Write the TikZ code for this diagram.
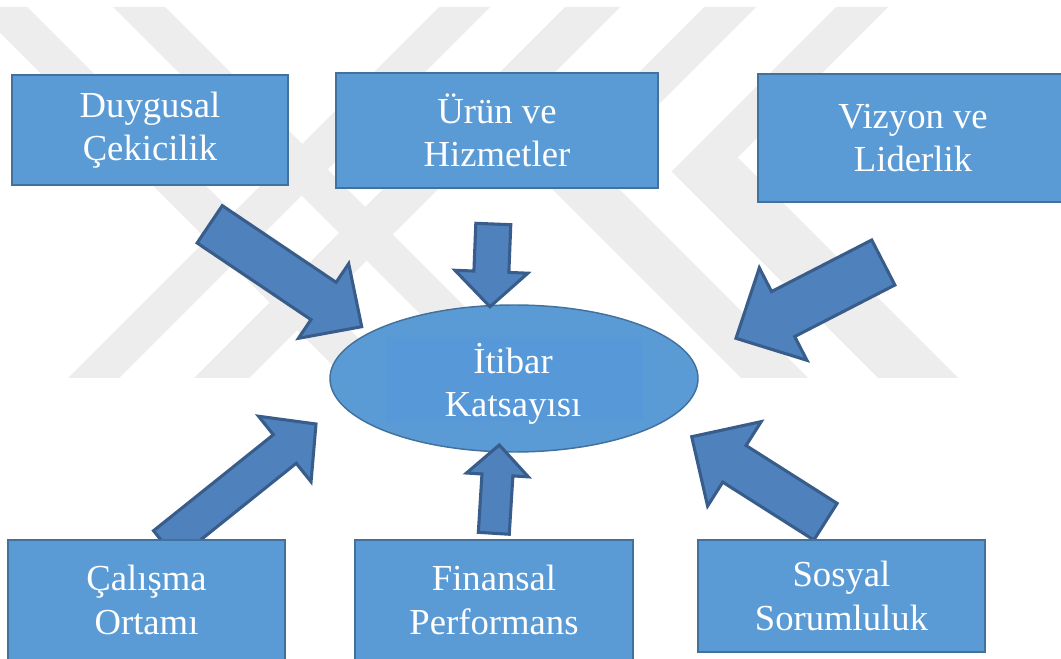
\documentclass[tikz,border=0pt]{standalone}
\usepackage{fontspec}
\setmainfont{Liberation Serif}
\usetikzlibrary{calc,shapes.geometric}

\newcommand\pxu{0.75pt}
\definecolor{boxfill}{RGB}{91,155,213}
\definecolor{boxline}{RGB}{65,113,156}
\definecolor{arrfill}{RGB}{79,129,189}
\definecolor{arrline}{RGB}{56,93,138}
\definecolor{textpanel}{RGB}{85,150,220}
\definecolor{emblemgray}{RGB}{237,237,237}

% block arrow: tail, tip, half shaft width, half head width, head length (px)
\newcommand{\blockarrow}[5]{%
  \coordinate (ba-n) at ($(#2)!#5*\pxu!(#1)$);
  \draw[arrowbody]
    ($(#1)!#3*\pxu!90:(#2)$) -- ($(ba-n)!#3*\pxu!90:(#2)$) --
    ($(ba-n)!#4*\pxu!90:(#2)$) -- (#2) --
    ($(ba-n)!#4*\pxu!-90:(#2)$) -- ($(ba-n)!#3*\pxu!-90:(#2)$) --
    ($(#1)!#3*\pxu!-90:(#2)$) -- cycle;
}

\tikzset{
  factor/.style={draw=boxline, line width=1.5pt, fill=boxfill, text=white,
    align=center, inner sep=0pt, font=\fontsize{27.5}{32.5}\selectfont},
  arrowbody/.style={draw=arrline, fill=arrfill, line width=2.3pt, line join=miter},
  core/.style={ellipse, draw=boxline, line width=1.1pt, fill=boxfill, inner sep=0pt},
  emblem/.style={fill=emblemgray},
}

\begin{document}
\begin{tikzpicture}[x=\pxu, y=-\pxu]
\useasboundingbox (0,0) rectangle (1061,659);
\fill[white] (0,0) rectangle (1061,659);

% faint background emblem
\begin{scope}
  \clip (0,7) rectangle (1061,378);
  \fill[emblem] (-26,7) -- (27,7) -- (398,378) -- (345,378) -- cycle;
  \fill[emblem] (113,7) -- (165,7) -- (536,378) -- (484,378) -- cycle;
  \fill[emblem] (439,7) -- (490,7) -- (119,378) -- (68,378) -- cycle;
  \fill[emblem] (565,7) -- (620,7) -- (249,378) -- (194,378) -- cycle;
  \fill[emblem] (537,174) -- (704,7) -- (756,7) -- (596.5,166.5) -- (808,378) -- (741,378) -- cycle;
  \fill[emblem] (671.5,171.5) -- (836,7) -- (888,7) -- (737.5,157.5) -- (958,378) -- (878,378) -- cycle;
\end{scope}

% central ellipse
\node[core, minimum width=368*\pxu, minimum height=147*\pxu] (itibar) at (514,378.5) {};
\fill[textpanel, opacity=0.6] (386,337) rectangle (643,421);
\node[text=white, align=center, font=\fontsize{27.5}{32.5}\selectfont] (itibar-label) at (513,384) {İtibar\\Katsayısı};

% arrow end points
\coordinate (t1) at (209.7,224.3); \coordinate (h1) at (361.7,326.7);
\coordinate (t2) at (493.3,224);   \coordinate (h2) at (490,306.7);
\coordinate (t3) at (883.3,262.5); \coordinate (h3) at (736,338.3);
\coordinate (t4) at (165,545);     \coordinate (h4) at (316,424);
\coordinate (t5) at (493.8,533.3); \coordinate (h5) at (499.3,445);
\coordinate (t6) at (825.5,521.7); \coordinate (h6) at (691.7,436.7);

\blockarrow{t1}{h1}{22.5}{45}{46}
\blockarrow{t2}{h2}{17.5}{36.5}{35}
\blockarrow{t3}{h3}{25.3}{52}{53}
\blockarrow{t4}{h4}{18.3}{42}{40}
\blockarrow{t5}{h5}{15.5}{31}{30}
\blockarrow{t6}{h6}{21.7}{50}{50.6}

% factor boxes
\node[factor, minimum width=276*\pxu, minimum height=110*\pxu] (duygusal) at (150,130) {Duygusal\\Çekicilik};
\node[factor, minimum width=322*\pxu, minimum height=115*\pxu] (urun) at (497,130.5) {Ürün ve\\Hizmetler};
\node[factor, minimum width=310*\pxu, minimum height=128*\pxu] (vizyon) at (913,138) {Vizyon ve\\Liderlik};
\node[factor, minimum width=277*\pxu, minimum height=120*\pxu] (calisma) at (146.5,600) {Çalışma\\Ortamı};
\node[factor, minimum width=278*\pxu, minimum height=120*\pxu] (finansal) at (494,600) {Finansal\\Performans};
\node[factor, minimum width=287*\pxu, minimum height=112*\pxu] (sosyal) at (841.5,596) {Sosyal\\Sorumluluk};
\end{tikzpicture}
\end{document}
